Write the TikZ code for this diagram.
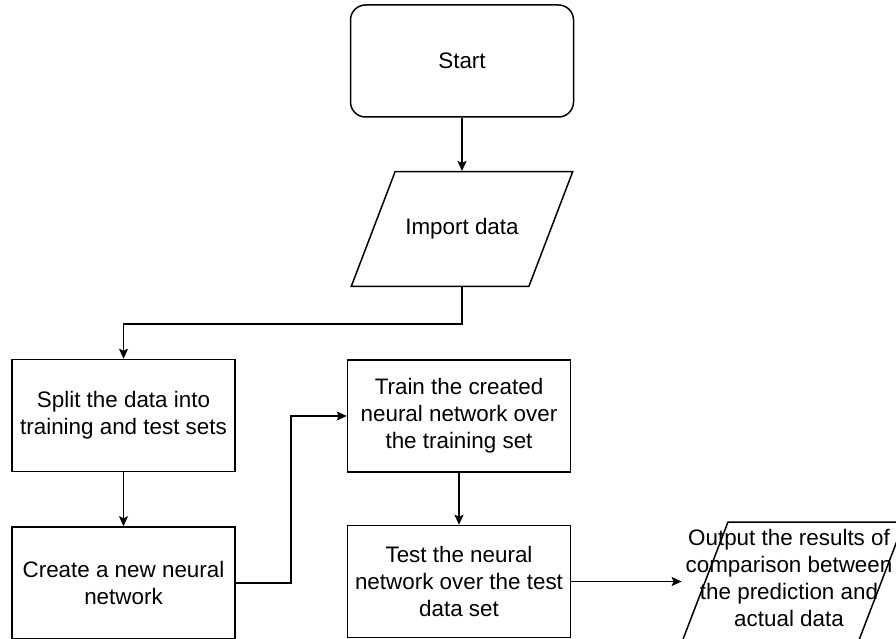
\documentclass[tikz,border=0pt]{standalone}
\usepackage{fontspec}
\setmainfont{Liberation Sans}
\usetikzlibrary{shapes.geometric,arrows.meta}

\begin{document}
\begin{tikzpicture}[
    x=1pt, y=-1pt,
    font=\fontsize{22.4}{27}\selectfont,
    term/.style={draw,line width=1.5pt,rounded corners=15pt,
      minimum width=223pt,minimum height=112pt,align=center},
    proc/.style={draw,line width=1.5pt,minimum width=223pt,
      minimum height=112pt,align=center,inner sep=2pt},
    io/.style={draw,line width=1.5pt,trapezium,trapezium left angle=69,
      trapezium right angle=111,trapezium stretches=false,
      minimum width=222pt,minimum height=112pt,align=center,inner sep=0pt},
    freccia/.style={line width=1.5pt,-{Stealth[length=10pt,width=9pt,inset=2pt]}}]

  \useasboundingbox (0,0) rectangle (896,639);

  % ---- i blocchi -------------------------------------------------------------
  \node[term] (start)  at (462,61)      {Start};
  \node[io,inner xsep=9pt,inner ysep=45.5pt] (import) at (462,229) {Import data};
  \node[proc] (split)  at (123.5,415.5) {Split the data into\\training and test sets};
  \node[proc] (create) at (123.5,583)   {Create a new neural\\network};
  \node[proc] (train)  at (459,416)     {Train the created\\neural network over\\the training set};
  \node[proc] (test)   at (459,581.5)   {Test the neural\\network over the test\\data set};
  \node[io]   (output) at (793.5,581)   {\makebox[120pt]{\hspace*{-9pt}\begin{tabular}{@{}c@{}}
    Output the results of\\comparison between\\the prediction and\\actual data\end{tabular}}};

  % ---- le frecce -------------------------------------------------------------
  \draw[freccia] (start) -- (import);
  \draw[freccia] (import.south) -- ++(0,37) -| (split.north);   % verso lo split
  \draw[freccia] (split) -- (create);
  \draw[freccia] (create.east) -- ++(55,0) |- (train.west);      % verso il training
  \draw[freccia] (train) -- (test);
  \draw[freccia] (test.east) -- (test.east -| output.bottom left corner);

\end{tikzpicture}
\end{document}
